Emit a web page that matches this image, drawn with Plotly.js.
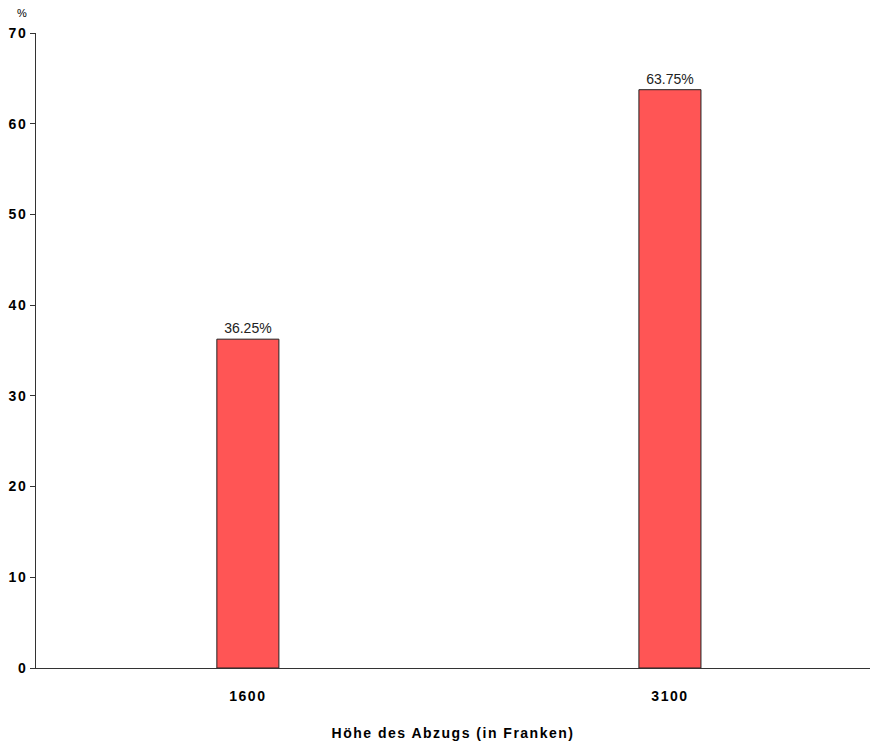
<!DOCTYPE html>
<html>
<head>
<meta charset="utf-8">
<script src="https://cdn.plot.ly/plotly-3.0.1.min.js"></script>
<style>
html,body{margin:0;padding:0;background:#fff;}
#chart{width:872px;height:747px;}
#chart .xtick text, #chart .ytick text, #chart .g-xtitle text{letter-spacing:1.5px;}
</style>
</head>
<body>
<div id="chart"></div>
<script>
var categories = ["1600", "3100"];
var values = [36.25, 63.75];
var yTicks = [0, 10, 20, 30, 40, 50, 60, 70];

var trace = {
  type: "bar",
  x: categories,
  y: values,
  width: 0.147,
  marker: {color: "#FF5555", line: {color: "#222222", width: 1}},
  text: values.map(function (v) { return v.toFixed(2) + "%"; }),
  texttemplate: "%{text}",
  textposition: "outside",
  cliponaxis: false,
  textfont: {family: "Liberation Sans, Arial, sans-serif", size: 14, color: "#222222"},
  hoverinfo: "none"
};

var boldFont = "Liberation Sans, Arial, sans-serif";

var layout = {
  width: 872,
  height: 747,
  margin: {l: 36, r: 2, t: 33, b: 79},
  paper_bgcolor: "#ffffff",
  plot_bgcolor: "#ffffff",
  showlegend: false,
  font: {family: "Liberation Sans, Arial, sans-serif", color: "#000000"},
  xaxis: {
    type: "category",
    range: [-0.502, 1.474],
    showline: true,
    linecolor: "#333333",
    linewidth: 1,
    ticks: "",
    showgrid: false,
    zeroline: false,
    ticklabelstandoff: 15,
    tickfont: {family: boldFont, size: 14, weight: "bold", color: "#000000"},
    title: {text: "Höhe des Abzugs (in Franken)", font: {family: boldFont, size: 14, weight: "bold", color: "#000000"}, standoff: 25}
  },
  yaxis: {
    range: [0, 70],
    tickvals: yTicks,
    ticktext: yTicks.map(String),
    showline: true,
    linecolor: "#333333",
    linewidth: 1,
    ticks: "outside",
    ticklen: 5,
    tickcolor: "#333333",
    showgrid: false,
    zeroline: false,
    tickfont: {family: boldFont, size: 14, weight: "bold", color: "#000000"}
  },
  annotations: [{
    text: "%",
    xref: "paper", yref: "paper",
    x: 0, y: 1,
    xanchor: "right", yanchor: "bottom",
    xshift: -7, yshift: 12,
    showarrow: false,
    font: {family: boldFont, size: 11, color: "#000000"}
  }]
};

Plotly.newPlot("chart", [trace], layout, {staticPlot: true});
</script>
</body>
</html>
